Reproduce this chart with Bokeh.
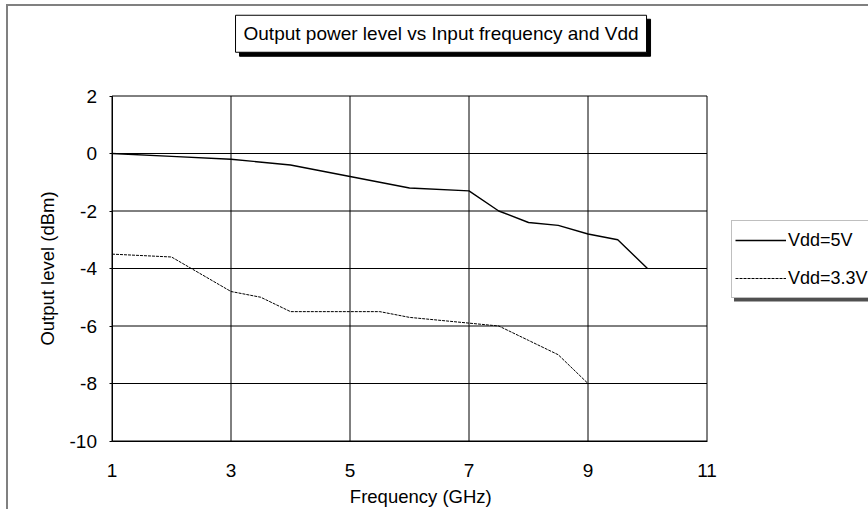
import math
from bokeh.plotting import figure
from bokeh.models import (Range1d, FixedTicker, Legend, LegendItem, CustomJSTickFormatter,
                          InlineStyleSheet, Label, PolyAnnotation)
from bokeh.embed import file_html
from bokeh.resources import INLINE

# ---- data ----
freq_5v = [1, 2, 3, 4, 5, 6, 7, 7.5, 8, 8.5, 9, 9.5, 10]
level_5v = [0, -0.1, -0.2, -0.4, -0.8, -1.2, -1.3, -2.0, -2.4, -2.5, -2.8, -3.0, -4.0]
freq_33v = [1, 2, 3, 3.5, 4, 5, 5.5, 6, 7, 7.5, 8, 8.5, 9]
level_33v = [-3.5, -3.6, -4.8, -5.0, -5.5, -5.5, -5.5, -5.7, -5.9, -6.0, -6.5, -7.0, -8.0]
x_ticks = [1, 3, 5, 7, 9, 11]
y_ticks = [-10, -8, -6, -4, -2, 0, 2]
series_names = ["Vdd=5V", "Vdd=3.3V"]
title_text = "Output power level vs Input frequency and Vdd"
x_title = "Frequency (GHz)"
y_title = "Output level (dBm)"

FONT = "Liberation Sans"
FS = "18.5px"

# plot area spans x 1..11, y -10..2; the ranges are padded so the whole
# chart (titles, legend) lives inside the frame
XMIN, XMAX, YMIN, YMAX = 1, 11, -10, 2
XPX, YPX = 59.5, 28.75          # pixels per unit
x0 = XMIN - 111.5 / XPX
y1 = YMAX + 95.5 / YPX
p = figure(width=868, height=509,
           x_range=Range1d(x0, x0 + 868 / XPX), y_range=Range1d(y1 - 509 / YPX, y1),
           output_backend="svg", toolbar_location=None,
           min_border=0, min_border_left=0, min_border_right=0,
           min_border_top=0, min_border_bottom=0)
p.title.text = ""
p.title.visible = False
p.background_fill_color = "white"
p.border_fill_color = "white"
p.outline_line_color = None
p.xgrid.visible = False
p.ygrid.visible = False

# grid lines of the plot area (incl. its top and right borders)
p.segment(x0=x_ticks, y0=[YMIN] * len(x_ticks), x1=x_ticks, y1=[YMAX] * len(x_ticks),
          line_color="black", line_width=1)
p.segment(x0=[XMIN] * len(y_ticks), y0=y_ticks, x1=[XMAX] * len(y_ticks), y1=y_ticks,
          line_color="black", line_width=1)

# axes at fixed locations
fmt = CustomJSTickFormatter(code="return tick.toString();")
p.xaxis.ticker = FixedTicker(ticks=x_ticks)
p.yaxis.ticker = FixedTicker(ticks=y_ticks)
for ax in (p.xaxis[0], p.yaxis[0]):
    ax.formatter = fmt
    ax.axis_line_color = "black"
    ax.major_tick_line_color = "black"
    ax.minor_tick_line_color = None
    ax.major_tick_in = 0
    ax.major_label_text_font = FONT
    ax.major_label_text_font_size = "19px"
    ax.major_label_text_color = "black"
p.xaxis.fixed_location = YMIN
p.xaxis.bounds = (XMIN, XMAX)
p.xaxis.major_tick_out = 0
p.xaxis.major_label_standoff = 23
p.yaxis.fixed_location = XMIN
p.yaxis.bounds = (YMIN, YMAX)
p.yaxis.major_tick_out = 3
p.yaxis.major_label_standoff = 12

# series
r5 = p.line(freq_5v, level_5v, line_color="black", line_width=1.4)
r33 = p.line(freq_33v, level_33v, line_color="black", line_width=1, line_dash="3 1")

# axis titles
p.add_layout(Label(x=6.19, y=-11.92, text=x_title, text_align="center", text_baseline="alphabetic",
                   text_font=FONT, text_font_size=FS, text_color="black"))
p.add_layout(Label(x=-0.085, y=-4.0, text=y_title, text_align="center", text_baseline="alphabetic",
                   angle=math.pi / 2, text_font=FONT, text_font_size=FS, text_color="black"))

# title box with shadow
p.add_layout(Label(x=6.53, y=4.165, text=title_text, text_align="center", text_baseline="middle",
                   text_font=FONT, text_font_size="19px", text_color="black",
                   background_fill_color="black", border_line_color="black",
                   padding=8, x_offset=4, y_offset=-4))
p.add_layout(Label(x=6.53, y=4.165, text=title_text, text_align="center", text_baseline="middle",
                   text_font=FONT, text_font_size="19px", text_color="black",
                   background_fill_color="white", border_line_color="black", border_line_width=1,
                   padding=8))

# legend shadow + legend
p.add_layout(PolyAnnotation(xs=[11.454, 14.5, 14.5, 11.454], ys=[-2.417, -2.417, -5.148, -5.148],
                            fill_color="#505050", fill_alpha=1, line_alpha=0))
legend = Legend(items=[LegendItem(label=series_names[0], renderers=[r5]),
                       LegendItem(label=series_names[1], renderers=[r33])],
                location=(731, 211), margin=0, padding=3, spacing=6,
                glyph_width=51, glyph_height=32, label_standoff=2,
                label_text_font=FONT, label_text_font_size="18px", label_text_color="black",
                border_line_color="#808080", border_line_width=1,
                background_fill_color="white", background_fill_alpha=1)
p.add_layout(legend)

# grey outer chart frame (left and top edges)
p.stylesheets = [InlineStyleSheet(css=(
    ":host::after { content: ''; position: absolute; left: 6px; top: 4px; "
    "right: -20px; bottom: -20px; border-left: 2px solid #808080; "
    "border-top: 2px solid #808080; pointer-events: none; }"))]

open("out.html", "w").write(file_html(p, INLINE))
